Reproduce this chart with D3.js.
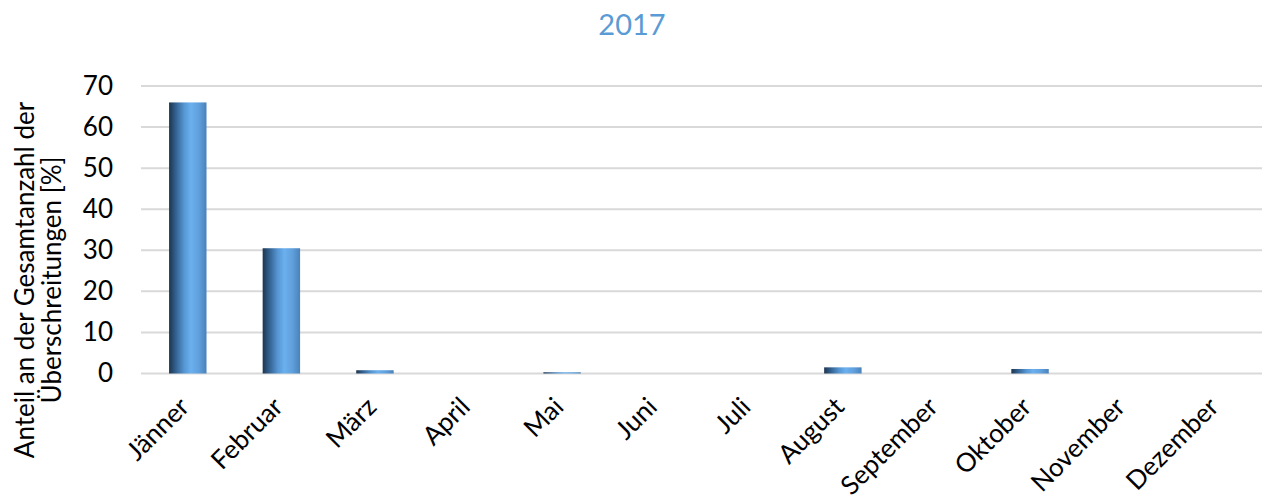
<!DOCTYPE html>
<html>
<head>
<meta charset="utf-8">
<script src="https://cdn.jsdelivr.net/npm/d3@7"></script>
<style>
  html, body { margin: 0; padding: 0; background: #fff; }
  svg { display: block; font-family: Lato, "Open Sans", sans-serif; }
</style>
</head>
<body>
<div id="chart"></div>
<script>
// Monthly share of exceedances, 2017
const months = ["Jänner", "Februar", "März", "April", "Mai", "Juni", "Juli",
                "August", "September", "Oktober", "November", "Dezember"];
const shares = [66.0, 30.5, 0.8, 0, 0.3, 0, 0, 1.5, 0, 1.1, 0, 0];
const yTicks = [0, 10, 20, 30, 40, 50, 60, 70];
const chartTitle = "2017";
const yTitleLines = ["Anteil an der Gesamtanzahl der", "Überschreitungen [%]"];

const W = 1262, H = 501;
const margin = { top: 86, right: -2, bottom: 127, left: 141 };
const FS = 26;

const svg = d3.select("#chart").append("svg")
  .attr("width", W).attr("height", H);

// Cylinder-like horizontal shading for the bars
const defs = svg.append("defs");
const grad = defs.append("linearGradient")
  .attr("id", "barShade").attr("x1", "0%").attr("x2", "100%")
  .attr("y1", "0%").attr("y2", "0%");
[["0%", "#1d3550"], ["18%", "#33618f"], ["40%", "#5596d3"],
 ["58%", "#6cb0ef"], ["80%", "#5f9fdc"], ["100%", "#4a82ba"]]
  .forEach(([o, c]) => grad.append("stop").attr("offset", o).attr("stop-color", c));

const x = d3.scaleBand()
  .domain(months)
  .range([margin.left, W - margin.right])
  .paddingInner(0.6).paddingOuter(0.3);

const y = d3.scaleLinear()
  .domain([0, 70])
  .range([H - margin.bottom - 0.5, margin.top]);

// Gridlines
svg.append("g")
  .selectAll("line").data(yTicks).join("line")
  .attr("x1", margin.left).attr("x2", W)
  .attr("y1", d => y(d)).attr("y2", d => y(d))
  .attr("stroke", "#d9d9d9").attr("stroke-width", 2);

// Y axis labels
const yAxis = svg.append("g")
  .attr("transform", `translate(${margin.left - 28},0)`)
  .call(d3.axisLeft(y).tickValues(yTicks).tickSize(0).tickPadding(0));
yAxis.select(".domain").remove();
yAxis.selectAll("text")
  .attr("font-size", FS).attr("fill", "#000")
  .attr("font-family", "Lato, 'Open Sans', sans-serif");

// Bars
svg.append("g")
  .selectAll("rect").data(months.map((m, i) => ({ m, v: shares[i] })))
  .join("rect")
  .attr("x", d => x(d.m))
  .attr("width", x.bandwidth())
  .attr("y", d => y(d.v))
  .attr("height", d => y(0) - y(d.v))
  .attr("fill", "url(#barShade)");

// X axis labels, rotated
const xAxis = svg.append("g")
  .attr("transform", `translate(0,${y(0)})`)
  .call(d3.axisBottom(x).tickSize(0).tickPadding(0));
xAxis.select(".domain").remove();
xAxis.selectAll("text")
  .attr("font-size", FS).attr("fill", "#000")
  .attr("font-family", "Lato, 'Open Sans', sans-serif")
  .attr("text-anchor", "end")
  .attr("dy", null)
  .attr("transform", "translate(3,35) rotate(-45)");

// Title
svg.append("text")
  .attr("x", W / 2 + 1).attr("y", 35)
  .attr("text-anchor", "middle")
  .attr("font-size", 29).attr("fill", "#5b9bd5")
  .text(chartTitle);

// Y axis title (two lines)
const yt = svg.append("text")
  .attr("transform", `translate(34,280) rotate(-90)`)
  .attr("text-anchor", "middle")
  .attr("font-size", FS).attr("fill", "#000");
yTitleLines.forEach((t, i) => {
  yt.append("tspan").attr("x", 0).attr("dy", i === 0 ? 0 : 27).text(t);
});
</script>
</body>
</html>
